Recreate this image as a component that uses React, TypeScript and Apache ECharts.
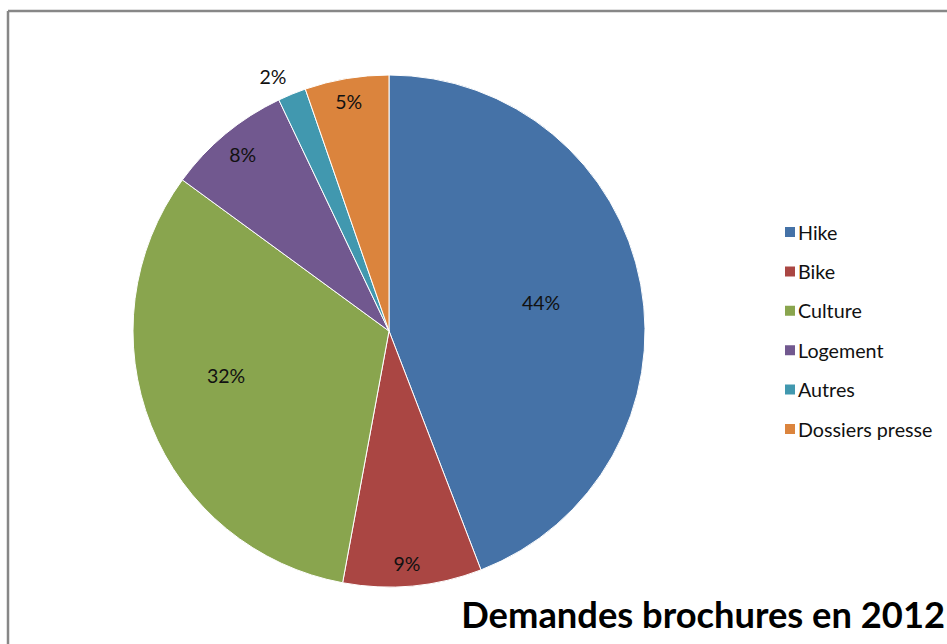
import React, { useEffect, useRef } from "react";
import * as echarts from "echarts";

const categories = ["Hike", "Bike", "Culture", "Logement", "Autres", "Dossiers presse"];
const values = [44.15, 8.75, 32.15, 7.87, 1.78, 5.3];
const colors = ["#4572A7", "#AA4643", "#89A54E", "#71588F", "#4198AF", "#DB843D"];
const titleText = "Demandes brochures en 2012";

// label placement (Excel best-fit look): distance from centre as fraction of radius,
// and small angular nudge in degrees
const labelRadiusFrac = [0.604, 0.909, 0.66, 0.896, 1.094, 0.912];
const labelAngleNudge = [0, 0.9, 6.3, 0, -2.2, -0.4];

const CX = 389;
const CY = 331;
const R = 256;
const FONT = "Lato, 'Open Sans', sans-serif";

export default function App() {
  const ref = useRef<HTMLDivElement>(null);
  useEffect(() => {
    if (!ref.current) return;
    const chart = echarts.init(ref.current, undefined, { renderer: "svg" });
    chart.setOption({
      animation: false,
      backgroundColor: "#ffffff",
      title: {
        text: titleText,
        right: 2,
        top: 594,
        padding: 0,
        textStyle: { fontFamily: FONT, fontSize: 36.3, fontWeight: "bold", color: "#000", lineHeight: 40 },
      },
      legend: {
        orient: "vertical",
        left: 783,
        top: 220,
        padding: 0,
        itemWidth: 12,
        itemHeight: 12,
        itemGap: 15.4,
        icon: "rect",
        data: categories,
        textStyle: { fontFamily: FONT, fontSize: 19.7, color: "#111", lineHeight: 24, padding: [0, 0, 0, -3] },
      },
      graphic: [
        { type: "line", shape: { x1: 8, y1: 11, x2: 947, y2: 11 }, style: { stroke: "#878787", lineWidth: 2.5 } },
        { type: "line", shape: { x1: 8, y1: 11, x2: 8, y2: 644 }, style: { stroke: "#878787", lineWidth: 2.5 } },
      ],
      series: [
        {
          type: "pie",
          center: [CX, CY],
          radius: [0, R],
          startAngle: 90,
          clockwise: true,
          label: {
            show: true,
            position: "inside",
            formatter: (p: any) => Math.round(p.percent) + "%",
            fontFamily: FONT,
            fontSize: 19.5,
            color: "#111",
          },
          labelLine: { show: false },
          labelLayout: (p: any) => {
            const lr = p.labelRect;
            const lx = lr.x + lr.width / 2 - CX;
            const ly = lr.y + lr.height / 2 - CY;
            const theta = Math.atan2(lx, -ly) + (labelAngleNudge[p.dataIndex] * Math.PI) / 180;
            const d = labelRadiusFrac[p.dataIndex] * R;
            return {
              x: CX + d * Math.sin(theta),
              y: CY - d * Math.cos(theta),
              align: "center",
              verticalAlign: "middle",
            };
          },
          itemStyle: { borderColor: "#ffffff", borderWidth: 1 },
          emphasis: { disabled: true },
          data: categories.map((name, i) => ({
            name,
            value: values[i],
            itemStyle: { color: colors[i] },
          })),
        },
      ],
    });
    return () => chart.dispose();
  }, []);
  return (
    <div
      ref={ref}
      style={{ position: "fixed", left: 0, top: 0, width: 947, height: 644 }}
    />
  );
}
